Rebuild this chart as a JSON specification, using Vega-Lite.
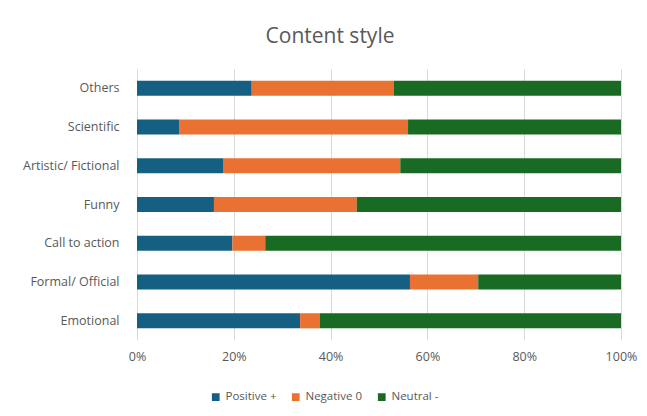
{
  "$schema": "https://vega.github.io/schema/vega-lite/v6.json",
  "autosize": {"type": "none"},
  "width": 484,
  "height": 271,
  "padding": {"left": 137, "top": 69, "right": 26, "bottom": 76},
  "background": "white",
  "title": {"text": "Content style", "fontSize": 21, "font": "Open Sans", "fontWeight": "normal", "color": "#595959", "anchor": "middle", "dx": -49, "offset": 22},
  "data": {"values": [
    {"style": "Others", "sentiment": "Positive +", "k": 1, "v": 23.7},
    {"style": "Others", "sentiment": "Negative 0", "k": 2, "v": 29.4},
    {"style": "Others", "sentiment": "Neutral -", "k": 3, "v": 46.9},
    {"style": "Scientific", "sentiment": "Positive +", "k": 1, "v": 8.8},
    {"style": "Scientific", "sentiment": "Negative 0", "k": 2, "v": 47.2},
    {"style": "Scientific", "sentiment": "Neutral -", "k": 3, "v": 44.0},
    {"style": "Artistic/ Fictional", "sentiment": "Positive +", "k": 1, "v": 17.9},
    {"style": "Artistic/ Fictional", "sentiment": "Negative 0", "k": 2, "v": 36.5},
    {"style": "Artistic/ Fictional", "sentiment": "Neutral -", "k": 3, "v": 45.6},
    {"style": "Funny", "sentiment": "Positive +", "k": 1, "v": 15.9},
    {"style": "Funny", "sentiment": "Negative 0", "k": 2, "v": 29.5},
    {"style": "Funny", "sentiment": "Neutral -", "k": 3, "v": 54.6},
    {"style": "Call to action", "sentiment": "Positive +", "k": 1, "v": 19.7},
    {"style": "Call to action", "sentiment": "Negative 0", "k": 2, "v": 6.8},
    {"style": "Call to action", "sentiment": "Neutral -", "k": 3, "v": 73.5},
    {"style": "Formal/ Official", "sentiment": "Positive +", "k": 1, "v": 56.4},
    {"style": "Formal/ Official", "sentiment": "Negative 0", "k": 2, "v": 14.1},
    {"style": "Formal/ Official", "sentiment": "Neutral -", "k": 3, "v": 29.5},
    {"style": "Emotional", "sentiment": "Positive +", "k": 1, "v": 33.7},
    {"style": "Emotional", "sentiment": "Negative 0", "k": 2, "v": 4.1},
    {"style": "Emotional", "sentiment": "Neutral -", "k": 3, "v": 62.2}
  ]},
  "mark": {"type": "bar"},
  "encoding": {
    "y": {
      "field": "style", "type": "nominal",
      "sort": ["Others", "Scientific", "Artistic/ Fictional", "Funny", "Call to action", "Formal/ Official", "Emotional"],
      "scale": {"paddingInner": 0.61, "paddingOuter": 0.3},
      "axis": {"title": null, "domain": false, "ticks": false, "labelPadding": 18, "labelFontSize": 12.5, "labelFont": "Open Sans", "labelColor": "#595959", "grid": false}
    },
    "x": {
      "field": "v", "type": "quantitative", "stack": "normalize",
      "scale": {"domain": [0, 1]},
      "axis": {"title": null, "format": ".0%", "values": [0, 0.2, 0.4, 0.6, 0.8, 1], "domain": false, "ticks": false, "labelFlush": false, "labelPadding": 10, "labelFontSize": 12.5, "labelFont": "Open Sans", "labelColor": "#595959", "grid": true, "gridColor": "#d9d9d9", "gridWidth": 1}
    },
    "color": {
      "field": "sentiment", "type": "nominal",
      "sort": ["Positive +", "Negative 0", "Neutral -"],
      "scale": {"domain": ["Positive +", "Negative 0", "Neutral -"], "range": ["#156082", "#E97132", "#196B24"]},
      "legend": {"title": null, "orient": "none", "direction": "horizontal", "legendX": 73, "legendY": 322, "symbolType": "square", "symbolSize": 60, "symbolStrokeWidth": 0, "labelFontSize": 11.5, "labelFont": "Open Sans", "labelColor": "#595959", "columnPadding": 13}
    },
    "order": {"field": "k", "type": "quantitative"}
  },
  "config": {"view": {"stroke": null}}
}
